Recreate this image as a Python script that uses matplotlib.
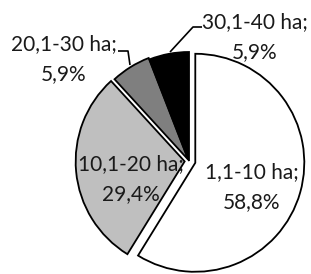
import matplotlib
matplotlib.use("Agg")
import matplotlib.pyplot as plt

categories = ["1,1-10 ha", "10,1-20 ha", "20,1-30 ha", "30,1-40 ha"]
shares = [58.8, 29.4, 5.9, 5.9]
pct_labels = ["58,8%", "29,4%", "5,9%", "5,9%"]

colors = ["#ffffff", "#bfbfbf", "#7f7f7f", "#000000"]
explode = [0.06, 0.04, 0.015, 0.0]

W, H = 311, 274
CX, CY, R = 189, 161, 109  # pie centre / radius in pixels (from top-left)

def px(x, y):
    return ((x - CX) / R, (CY - y) / R)

plt.rcParams['font.family'] = ['Lato', 'DejaVu Sans']

fig = plt.figure(figsize=(W / 100, H / 100), dpi=100)
ax = fig.add_axes([0, 0, 1, 1])
ax.pie(shares, colors=colors, explode=explode, startangle=90, counterclock=False,
       radius=1.0, wedgeprops=dict(edgecolor="black", linewidth=1.3))
ax.set_xlim(-CX / R, (W - CX) / R)
ax.set_ylim(-(H - CY) / R, CY / R)
ax.set_aspect('auto')
ax.axis('off')

label_pos = [(252, 187), (131, 179), (64, 59), (255, 37)]
fs = 15
for cat, pl, (lx, ly) in zip(categories, pct_labels, label_pos):
    x, y = px(lx, ly)
    ax.text(x, y, f"{cat};\n{pl}", ha="center", va="center", fontsize=fs,
            linespacing=1.6, color="#1a1a1a")

# leader lines
for pts in [[(118, 51), (128, 51), (130, 65)], [(202, 27), (193, 27), (170, 52)]]:
    xs, ys = zip(*[px(a, b) for a, b in pts])
    ax.plot(xs, ys, color="black", linewidth=1.2, solid_capstyle="butt")

fig.savefig("out.png", dpi=100)
